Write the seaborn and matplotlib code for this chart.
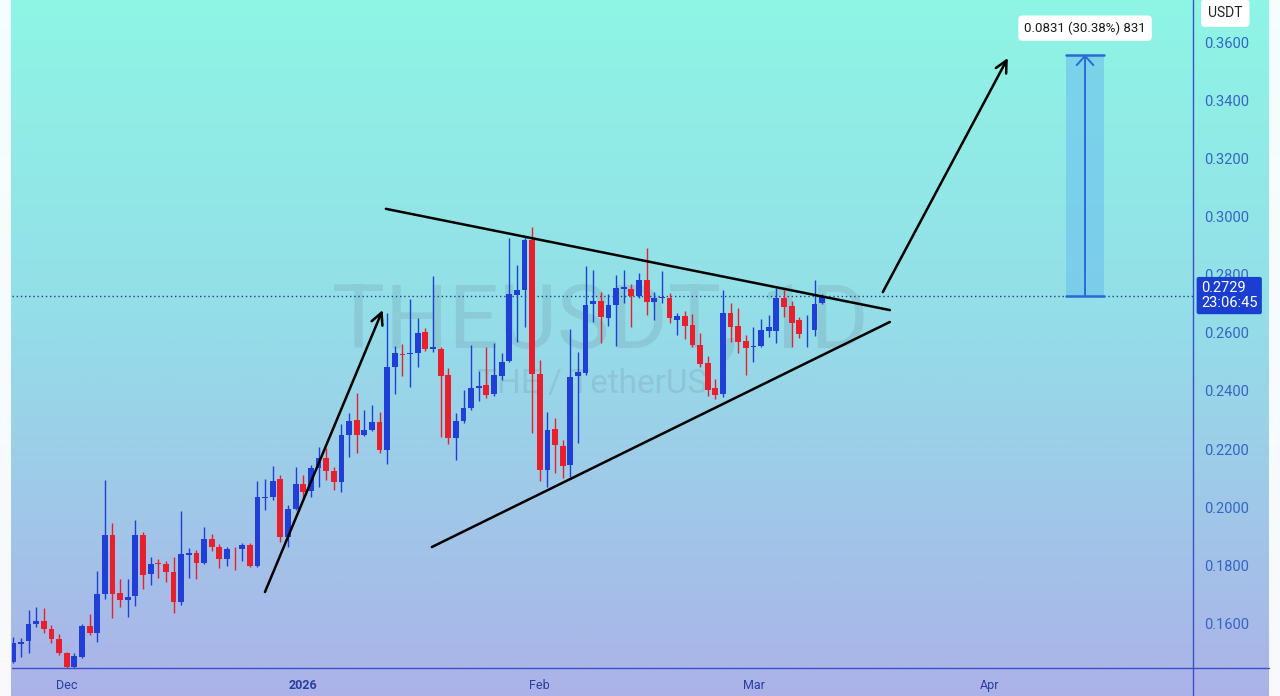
import numpy as np
import pandas as pd
import matplotlib
matplotlib.use("Agg")
import matplotlib.pyplot as plt
import matplotlib.dates as mdates
import matplotlib.transforms as mtransforms
from matplotlib.patches import Rectangle
from matplotlib.lines import Line2D
import seaborn as sns

# ---------------- data ----------------
start_date = "2025-11-24"
opens = [.1467, .1528, .1539, .1597, .1608, .1579, .1544, .1496, .1450, .1484,
         .1590, .1567, .1700, .1904, .1703, .1680, .1694, .1904, .1769, .1808,
         .1803, .1775, .1674, .1836, .1840, .1806, .1890, .1863, .1820, .1859,
         .1854, .1869, .1797, .2030, .2036, .2095, .1897, .1992, .2079, .2055,
         .2133, .2168, .2125, .2085, .2250, .2300, .2250, .2267, .2294, .2196,
         .2484, .2529, .2527, .2530, .2603, .2546, .2544, .2455, .2237, .2295,
         .2341, .2410, .2419, .2389, .2450, .2504, .2731, .2749, .2919, .2459,
         .2126, .2268, .2211, .2145, .2450, .2461, .2700, .2711, .2651, .2697,
         .2752, .2752, .2726, .2783, .2708, .2721, .2720, .2645, .2660, .2628,
         .2559, .2497, .2409, .2389, .2670, .2624, .2573, .2553, .2556, .2607,
         .2608, .2719, .2693, .2645, .2602, .2612, .2702]
highs = [.1553, .1548, .1645, .1654, .1651, .1594, .1562, .1500, .1498, .1597,
         .1631, .1780, .2094, .1946, .1751, .1751, .1956, .1915, .1826, .1820,
         .1815, .1829, .1987, .1860, .1852, .1932, .1907, .1872, .1863, .1863,
         .1877, .1877, .2091, .2095, .2141, .2112, .2007, .2139, .2110, .2145,
         .2208, .2202, .2139, .2286, .2325, .2394, .2334, .2351, .2328, .2670,
         .2555, .2562, .2716, .2650, .2616, .2797, .2550, .2478, .2323, .2404,
         .2559, .2470, .2553, .2567, .2532, .2927, .2835, .2933, .2967, .2507,
         .2329, .2306, .2231, .2613, .2533, .2831, .2818, .2743, .2735, .2800,
         .2818, .2769, .2808, .2892, .2743, .2812, .2739, .2670, .2677, .2666,
         .2601, .2520, .2440, .2748, .2702, .2685, .2593, .2622, .2647, .2662,
         .2754, .2748, .2711, .2656, .2662, .2783, .2734]
lows = [.1461, .1484, .1496, .1588, .1565, .1530, .1490, .1430, .1435, .1479,
        .1559, .1536, .1682, .1617, .1657, .1622, .1659, .1716, .1731, .1757,
        .1743, .1633, .1662, .1757, .1751, .1803, .1849, .1789, .1797, .1783,
        .1815, .1792, .1792, .1990, .2024, .1880, .1863, .1989, .2035, .2035,
        .2070, .2093, .2058, .2053, .2173, .2185, .2245, .2262, .2185, .2150,
        .2389, .2451, .2415, .2484, .2539, .2533, .2243, .2218, .2162, .2290,
        .2335, .2364, .2375, .2384, .2438, .2501, .2570, .2622, .2254, .2088,
        .2070, .2116, .2099, .2103, .2222, .2455, .2639, .2565, .2624, .2556,
        .2703, .2620, .2722, .2662, .2645, .2703, .2634, .2593, .2578, .2553,
        .2484, .2382, .2374, .2380, .2570, .2530, .2455, .2501, .2550, .2587,
        .2564, .2656, .2553, .2581, .2553, .2589, .2700]
closes = [.1530, .1536, .1597, .1608, .1579, .1544, .1496, .1450, .1487, .1590,
          .1567, .1700, .1904, .1700, .1680, .1691, .1904, .1766, .1803, .1803,
          .1775, .1674, .1838, .1840, .1806, .1890, .1863, .1820, .1854, .1857,
          .1868, .1797, .2033, .2036, .2091, .1897, .1992, .2079, .2053, .2133,
          .2168, .2125, .2085, .2248, .2296, .2250, .2265, .2294, .2196, .2484,
          .2532, .2525, .2532, .2601, .2544, .2550, .2452, .2237, .2295, .2341,
          .2410, .2418, .2386, .2455, .2501, .2735, .2749, .2919, .2459, .2126,
          .2266, .2214, .2142, .2447, .2466, .2697, .2711, .2654, .2697, .2754,
          .2760, .2726, .2781, .2708, .2720, .2725, .2651, .2660, .2624, .2559,
          .2494, .2405, .2386, .2670, .2619, .2570, .2547, .2556, .2610, .2619,
          .2719, .2691, .2635, .2596, .2605, .2699, .2729]

y_ticks = [0.16, 0.18, 0.20, 0.22, 0.24, 0.26, 0.28, 0.30, 0.32, 0.34, 0.36]
x_tick_dates = ["2025-12-01", "2026-01-01", "2026-02-01", "2026-03-01", "2026-04-01"]
x_tick_labels = ["Dec", "2026", "Feb", "Mar", "Apr"]

last_price = 0.2729
countdown = "23:06:45"
measure_change = 0.0831
measure_label = "0.0831 (30.38%) 831"
currency = "USDT"
watermark = "THEUSDT, 1D"
watermark_sub = "THE / TetherUS"

# drawings: (day offset from start, price)
impulse_arrow = [(32.98, 0.1707), (48.4, 0.2679)]
upper_line = [(48.83, 0.3028), (114.87, 0.2679)]
lower_line = [(54.85, 0.1862), (114.87, 0.2638)]
breakout_arrow = [(113.95, 0.2741), (130.33, 0.3548)]
measure_days = (137.9, 143.0)

# ---------------- style ----------------
sns.set_theme(style="white")
plt.rcParams["font.family"] = ["Roboto", "DejaVu Sans"]

W, H = 1280, 696
fig = plt.figure(figsize=(W / 100, H / 100), dpi=100)

# background gradient
bg = fig.add_axes([0, 0, 1, 1], zorder=-10)
stops_y = np.array([0.0, 0.45, 1.0])
stops_c = np.array([[142, 245, 228], [148, 222, 232], [172, 178, 232]]) / 255.0
yy = np.linspace(0, 1, 400)
grad = np.stack([np.interp(yy, stops_y, stops_c[:, k]) for k in range(3)], axis=-1)
grad = np.repeat(grad[:, None, :], 2, axis=1)
bg.imshow(grad, aspect="auto", extent=[0, 1, 0, 1], origin="upper")
bg.set_axis_off()
# pale edge strips
bg.add_patch(Rectangle((0, 0), 11 / W, 1, color="white", alpha=0.92, lw=0))
bg.add_patch(Rectangle((1269 / W, 0), 11 / W, 1, color="white", alpha=0.92, lw=0))

ax = fig.add_axes([12 / W, 28 / H, 1181 / W, 668 / H])
ax.patch.set_alpha(0)

base = mdates.date2num(pd.Timestamp(start_date))
n = len(opens)
x = base + np.arange(n)
o = np.array(opens); c = np.array(closes); hi = np.array(highs); lo = np.array(lows)
up = c >= o
blue = "#1f3fd6"
red = "#e8202e"
cols = np.where(up, blue, red)

ax.vlines(x, lo, hi, colors=cols, lw=1.0, zorder=3)
body_h = np.maximum(np.abs(c - o), 0.0003)
ax.bar(x, body_h, bottom=np.minimum(o, c), width=0.76, color=cols, lw=0, zorder=4)

ax.set_xlim(base - 0.17, base + 154.6)
ax.set_ylim(0.1445, 0.3748)

# watermark
ax.text(0.498, 0.479, watermark, transform=ax.transAxes, ha="center", va="baseline",
        fontsize=64, color="#5a7080", alpha=0.16, zorder=1)
ax.text(0.491, 0.4117, watermark_sub, transform=ax.transAxes, ha="center", va="baseline",
        fontsize=24, color="#5a7080", alpha=0.16, zorder=1)

# last price dotted line
ax.axhline(last_price, color="#2a3a8a", lw=1, ls=(0, (1, 2)), zorder=2)

# drawings
def pt(p):
    return (base + p[0], p[1])

for seg in (upper_line, lower_line):
    (x0, y0), (x1, y1) = pt(seg[0]), pt(seg[1])
    ax.plot([x0, x1], [y0, y1], color="black", lw=1.8, zorder=6, solid_capstyle="round")

for seg in (impulse_arrow, breakout_arrow):
    ax.annotate("", xy=pt(seg[1]), xytext=pt(seg[0]),
                arrowprops=dict(arrowstyle="->,head_length=0.7,head_width=0.35",
                                color="black", lw=1.8, shrinkA=0, shrinkB=0),
                zorder=6)

# measure tool
mx0, mx1 = base + measure_days[0], base + measure_days[1]
target = last_price + measure_change
ax.add_patch(Rectangle((mx0, last_price), mx1 - mx0, measure_change,
                       facecolor="#6cc0ee", alpha=0.6, lw=0, zorder=5))
ax.plot([mx0, mx1], [target, target], color="#2a6ad6", lw=1.8, zorder=6)
ax.plot([mx0, mx1], [last_price, last_price], color="#2a6ad6", lw=1.8, zorder=6)
xc = (mx0 + mx1) / 2
ax.annotate("", xy=(xc, target), xytext=(xc, last_price),
            arrowprops=dict(arrowstyle="->,head_length=0.55,head_width=0.5",
                            color="#2a6ad6", lw=1.4, shrinkA=0, shrinkB=0), zorder=6)
ax.text(xc, target + 0.0091, measure_label, ha="center", va="center", fontsize=9.5,
        color="#1a1a1a", zorder=7,
        bbox=dict(boxstyle="round,pad=0.45,rounding_size=0.3", fc="white", ec="none"))

# axes styling
for s in ax.spines.values():
    s.set_visible(False)
ax.yaxis.tick_right()
ax.set_yticks(y_ticks)
ax.set_yticklabels([f"{v:.4f}" for v in y_ticks])
ax.tick_params(axis="y", length=0, pad=8, labelsize=10.5, labelcolor="#3565c5")
xt = [mdates.date2num(pd.Timestamp(d)) for d in x_tick_dates]
ax.set_xticks(xt)
ax.set_xticklabels(x_tick_labels)
ax.tick_params(axis="x", length=0, pad=8, labelsize=9, labelcolor="#2b3d9e")
for lab in ax.get_xticklabels():
    if lab.get_text() == "2026":
        lab.set_fontweight("bold")
ax.grid(False)

# axis border lines
fig.add_artist(Line2D([1193 / W, 1193 / W], [0, 1], color="#3c50c8", lw=1))
fig.add_artist(Line2D([12 / W, 1269 / W], [28 / H, 28 / H], color="#3c50c8", lw=1))

# last price tag
trans = mtransforms.blended_transform_factory(ax.transAxes, ax.transData)
ax.text(1.0 + 8 / 1181, last_price, f"{last_price:.4f}\n{countdown}", transform=trans,
        ha="left", va="center", fontsize=10.5, color="white", linespacing=1.05,
        clip_on=False, zorder=8,
        bbox=dict(boxstyle="round,pad=0.3,rounding_size=0.15", fc="#1a3fd0", ec="none"))

# currency box
fig.text(1208 / W, 1 - 13 / H, currency, ha="left", va="center", fontsize=10,
         color="#222222",
         bbox=dict(boxstyle="round,pad=0.5,rounding_size=0.3", fc="white", ec="none"))

fig.savefig("out.png", dpi=100)
